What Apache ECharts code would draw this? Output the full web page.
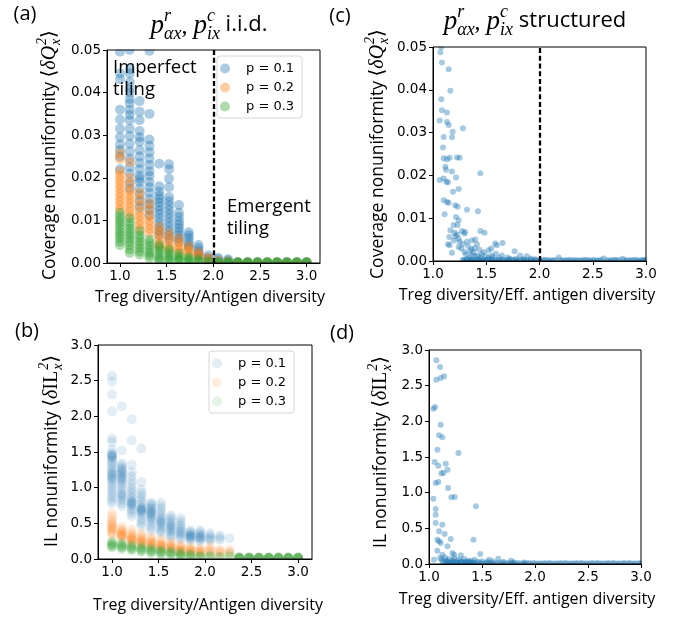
<!DOCTYPE html>
<html><head><meta charset="utf-8">
<script src="https://cdn.jsdelivr.net/npm/echarts@6/dist/echarts.min.js"></script>
<style>html,body{margin:0;padding:0;background:#fff}#c{width:683px;height:618px}</style>
</head><body><div id="c"></div>
<script>
// ---------- DATA ----------
const xCols = [1.000, 1.105, 1.211, 1.316, 1.421, 1.526, 1.632, 1.737, 1.842, 1.947, 2.053, 2.158, 2.263, 2.368, 2.474, 2.579, 2.684, 2.789, 2.895, 3.000];
const legendNames = ['p = 0.1', 'p = 0.2', 'p = 0.3'];
const xTicks = [1.0, 1.5, 2.0, 2.5, 3.0];
const covTicks = [0, 0.01, 0.02, 0.03, 0.04, 0.05];
const ilTicks = [0, 0.5, 1.0, 1.5, 2.0, 2.5, 3.0];
const tilingThreshold = 2.0;

// (a) coverage nonuniformity, i.i.d., one list per x column
const covP1 = [
  [0.0496, 0.0445, 0.0432, 0.0360, 0.0337, 0.0315, 0.0295, 0.0278, 0.0265, 0.0250, 0.0220],
  [0.0500, 0.0455, 0.0445, 0.0425, 0.0410, 0.0400, 0.0385, 0.0375, 0.0360, 0.0348, 0.0335, 0.0315, 0.0298, 0.0280, 0.0262, 0.0245, 0.0225, 0.0210, 0.0190, 0.0175],
  [0.0380, 0.0355, 0.0335, 0.0310, 0.0295, 0.0285, 0.0265, 0.0250, 0.0235, 0.0220, 0.0205, 0.0198, 0.0190, 0.0175, 0.0160, 0.0145, 0.0130],
  [0.0498, 0.0350, 0.0290, 0.0275, 0.0260, 0.0245, 0.0230, 0.0215, 0.0205, 0.0190, 0.0178, 0.0165, 0.0150, 0.0138, 0.0125, 0.0112],
  [0.0233, 0.0180, 0.0168, 0.0158, 0.0150, 0.0142, 0.0133, 0.0124, 0.0115, 0.0105, 0.0095, 0.0085, 0.0075, 0.0065],
  [0.0232, 0.0220, 0.0198, 0.0178, 0.0155, 0.0145, 0.0135, 0.0125, 0.0115, 0.0105, 0.0095, 0.0085, 0.0075, 0.0065, 0.0055],
  [0.0136, 0.0118, 0.0108, 0.0098, 0.0090, 0.0082, 0.0074, 0.0066, 0.0058, 0.0050],
  [0.0072, 0.0065, 0.0058, 0.0050, 0.0042, 0.0036],
  [0.0042, 0.0035, 0.0028, 0.0022, 0.0017],
  [0.0018, 0.0012, 0.0008],
  [0.0012, 0.0008],
  [0.0009, 0.0006],
  [0.0002], [0.0002], [0.0002], [0.0002], [0.0002], [0.0002], [0.0002], [0.0002]
];
const covP2 = [
  [0.0258, 0.0245, 0.0215, 0.0205, 0.0195, 0.0185, 0.0175, 0.0165, 0.0155, 0.0145, 0.0135, 0.0125],
  [0.0237, 0.0200, 0.0185, 0.0170, 0.0160, 0.0150, 0.0140, 0.0130, 0.0120, 0.0110],
  [0.0165, 0.0150, 0.0135, 0.0120, 0.0110, 0.0100, 0.0090, 0.0080],
  [0.0140, 0.0125, 0.0110, 0.0100, 0.0090, 0.0080, 0.0070],
  [0.0085, 0.0075, 0.0065, 0.0055, 0.0045, 0.0038],
  [0.0070, 0.0060, 0.0050, 0.0040, 0.0032],
  [0.0058, 0.0048, 0.0040, 0.0032, 0.0025],
  [0.0040, 0.0033, 0.0026, 0.0020],
  [0.0025, 0.0020, 0.0015],
  [0.0012, 0.0008],
  [0.0006], [0.0004],
  [0.0001], [0.0001], [0.0001], [0.0001], [0.0001], [0.0001], [0.0001], [0.0001]
];
const covP3 = [
  [0.0118, 0.0110, 0.0102, 0.0095, 0.0088, 0.0080, 0.0072, 0.0065, 0.0058, 0.0050, 0.0042],
  [0.0105, 0.0095, 0.0088, 0.0080, 0.0072, 0.0065, 0.0057, 0.0050, 0.0042, 0.0032, 0.0024],
  [0.0075, 0.0065, 0.0058, 0.0050, 0.0042, 0.0035, 0.0027, 0.0020],
  [0.0055, 0.0048, 0.0040, 0.0032, 0.0025, 0.0018, 0.0012],
  [0.0042, 0.0035, 0.0028, 0.0021, 0.0015, 0.0009, 0.0005],
  [0.0032, 0.0025, 0.0019, 0.0013, 0.0008, 0.0004],
  [0.0022, 0.0016, 0.0011, 0.0007, 0.0004],
  [0.0014, 0.0010, 0.0006, 0.0003],
  [0.0009, 0.0005, 0.0002],
  [0.0004, 0.0002],
  [0.0002, 0.0001, 0.0001], [0.0002, 0.0001, 0.0001], [0.0002, 0.0001, 0.0001], [0.0002, 0.0001, 0.0001], [0.0002, 0.0001, 0.0001],
  [0.0002, 0.0001, 0.0001], [0.0002, 0.0001, 0.0001], [0.0002, 0.0001, 0.0001], [0.0002, 0.0001, 0.0001], [0.0002, 0.0001, 0.0001]
];

// (b) IL nonuniformity, i.i.d.
const ilP1 = [
  [2.57, 2.49, 2.31, 2.07, 1.69, 1.64, 1.53, 1.48, 1.46, 1.45, 1.44, 1.43, 1.41, 1.38, 1.35, 1.32, 1.28, 1.25, 1.22, 1.20, 1.18, 1.16, 1.14, 1.12, 1.10, 1.06, 1.02, 0.98, 0.94, 0.90, 0.86, 0.82, 0.78],
  [2.14, 1.52, 1.34, 1.31, 1.28, 1.26, 1.24, 1.22, 1.20, 1.18, 1.16, 1.14, 1.12, 1.10, 1.07, 1.04, 1.00, 0.96, 0.92, 0.90, 0.88, 0.85, 0.82, 0.78, 0.74],
  [1.96, 1.66, 1.32, 1.22, 1.16, 1.10, 1.05, 1.00, 0.96, 0.92, 0.88, 0.85, 0.82, 0.80, 0.79, 0.78, 0.76, 0.74, 0.71, 0.68, 0.64, 0.60],
  [1.55, 1.08, 0.97, 0.92, 0.88, 0.84, 0.80, 0.76, 0.73, 0.71, 0.70, 0.69, 0.68, 0.67, 0.65, 0.62, 0.58, 0.54, 0.50, 0.46],
  [0.79, 0.77, 0.75, 0.72, 0.70, 0.68, 0.66, 0.65, 0.64, 0.62, 0.60, 0.58, 0.55, 0.52, 0.48, 0.44, 0.40],
  [0.79, 0.74, 0.70, 0.66, 0.62, 0.58, 0.56, 0.54, 0.52, 0.50, 0.48, 0.45, 0.42, 0.39, 0.36],
  [0.61, 0.58, 0.55, 0.52, 0.49, 0.47, 0.45, 0.43, 0.41, 0.39, 0.36, 0.33, 0.30],
  [0.57, 0.53, 0.49, 0.46, 0.43, 0.40, 0.38, 0.36, 0.34, 0.31, 0.28],
  [0.40, 0.38, 0.36, 0.34, 0.33, 0.32, 0.31, 0.30, 0.28, 0.26],
  [0.40, 0.37, 0.35, 0.33, 0.31, 0.30, 0.29, 0.27, 0.25],
  [0.36, 0.33, 0.30, 0.28, 0.26],
  [0.33, 0.30, 0.27],
  [0.29],
  [0.01], [0.01], [0.01], [0.01], [0.01], [0.01], [0.01]
];
const ilP2 = [
  [0.64, 0.60, 0.56, 0.52, 0.50, 0.48, 0.46, 0.44, 0.42, 0.40, 0.38, 0.36, 0.34],
  [0.45, 0.42, 0.40, 0.38, 0.36, 0.35, 0.34, 0.33, 0.32, 0.31, 0.29],
  [0.41, 0.37, 0.34, 0.32, 0.30, 0.29, 0.28, 0.27, 0.26, 0.24, 0.22],
  [0.36, 0.33, 0.30, 0.28, 0.26, 0.25, 0.24, 0.23, 0.22, 0.20],
  [0.31, 0.28, 0.26, 0.24, 0.22, 0.21, 0.20, 0.19, 0.17],
  [0.28, 0.25, 0.22, 0.20, 0.19, 0.18, 0.17, 0.16, 0.14],
  [0.24, 0.21, 0.19, 0.17, 0.16, 0.15, 0.14, 0.12],
  [0.20, 0.18, 0.16, 0.14, 0.13, 0.12, 0.11, 0.09],
  [0.17, 0.15, 0.13, 0.12, 0.11, 0.10, 0.08],
  [0.15, 0.13, 0.11, 0.10, 0.09, 0.08],
  [0.18, 0.14, 0.12, 0.10, 0.08],
  [0.13, 0.11, 0.09, 0.07],
  [0.13, 0.10, 0.08],
  [0.01], [0.01], [0.01], [0.01], [0.01], [0.01], [0.01]
];
const ilP3 = [
  [0.25, 0.23, 0.22, 0.21, 0.20, 0.19, 0.18, 0.17, 0.16],
  [0.23, 0.21, 0.20, 0.19, 0.18, 0.17, 0.16, 0.15, 0.14],
  [0.20, 0.18, 0.17, 0.16, 0.15, 0.14, 0.13, 0.12],
  [0.18, 0.16, 0.15, 0.14, 0.13, 0.12, 0.11, 0.10],
  [0.16, 0.14, 0.13, 0.12, 0.11, 0.10, 0.09, 0.08],
  [0.13, 0.12, 0.11, 0.10, 0.09, 0.08, 0.07, 0.06],
  [0.11, 0.10, 0.09, 0.08, 0.07, 0.06, 0.05],
  [0.09, 0.08, 0.07, 0.06, 0.05, 0.04, 0.03],
  [0.07, 0.06, 0.05, 0.04, 0.03, 0.02],
  [0.05, 0.04, 0.03, 0.02, 0.02],
  [0.05, 0.04, 0.03, 0.02],
  [0.03, 0.02, 0.02],
  [0.07, 0.04, 0.02],
  [0.02, 0.02, 0.02, 0.015, 0.015, 0.01, 0.01, 0.01],
  [0.02, 0.02, 0.02, 0.015, 0.015, 0.01, 0.01, 0.01],
  [0.02, 0.02, 0.02, 0.015, 0.015, 0.01, 0.01, 0.01],
  [0.02, 0.02, 0.02, 0.015, 0.015, 0.01, 0.01, 0.01],
  [0.02, 0.02, 0.02, 0.015, 0.015, 0.01, 0.01, 0.01],
  [0.02, 0.02, 0.02, 0.015, 0.015, 0.01, 0.01, 0.01],
  [0.02, 0.02, 0.02, 0.015, 0.015, 0.01, 0.01, 0.01]
];

// (c) structured: effective diversity ratio and coverage nonuniformity
const structXc = [1.078,1.069,1.084,1.147,1.163,1.078,1.084,1.131,1.063,1.131,1.147,1.281,1.184,1.100,1.178,1.094,1.100,1.131,1.156,1.225,1.250,1.116,1.122,1.178,1.063,1.100,1.125,1.141,1.216,1.444,1.188,1.241,1.100,1.131,1.147,1.209,1.231,1.319,1.422,1.109,1.216,1.241,1.194,1.231,1.163,1.203,1.272,1.300,1.153,1.228,1.241,1.294,1.444,1.484,1.141,1.156,1.194,1.241,1.266,1.319,1.366,1.397,1.178,1.297,1.350,1.413,1.434,1.475,1.522,1.547,1.584,1.600,1.653,1.366,1.397,1.459,1.553,1.591,1.647,1.766,1.819,1.881,
  1.210,1.250,1.280,1.330,1.360,1.390,1.310,1.340,1.380,1.420,1.450,1.500,1.520,1.560,1.620,1.700,1.720,1.780,1.850,1.920,1.960,
  1.28,1.30,1.32,1.35,1.37,1.40,1.42,1.44,1.46,1.48,1.50,1.53,1.55,1.58,1.60,1.63,1.66,1.68,1.71,1.74,1.77,1.80,1.83,1.86,1.89,1.93,1.97,2.01,2.05,2.09,2.13,2.18,2.20,2.24,2.28,2.32,2.36,2.40,2.44,2.48,2.52,2.56,2.60,2.63,2.67,2.71,2.75,2.78,2.82,2.86,2.90,2.94,2.97,3.00,
  1.29,1.33,1.36,1.39,1.43,1.47,1.51,1.56,1.61,1.65,1.70,1.75,1.79,1.84,1.88,1.92,1.96,2.00,2.03,2.07,2.11,2.15,2.22,2.26,2.30,2.34,2.38,2.42,2.46,2.50,2.54,2.58,2.65,2.69,2.73,2.80,2.84,2.88,2.92,2.96,2.99];
const structCov = [0.0500,0.0488,0.0464,0.0448,0.0398,0.0378,0.0352,0.0347,0.0328,0.0325,0.0318,0.0310,0.0302,0.0290,0.0289,0.0265,0.0240,0.0238,0.0241,0.0242,0.0241,0.0220,0.0213,0.0209,0.0189,0.0193,0.0185,0.0184,0.0195,0.0205,0.0162,0.0168,0.0142,0.0138,0.0136,0.0130,0.0127,0.0120,0.0116,0.0109,0.0103,0.0095,0.0084,0.0084,0.0072,0.0066,0.0070,0.0068,0.0056,0.0062,0.0052,0.0064,0.0070,0.0066,0.0039,0.0037,0.0048,0.0033,0.0029,0.0045,0.0048,0.0050,0.0019,0.0021,0.0023,0.0039,0.0027,0.0021,0.0025,0.0029,0.0041,0.0037,0.0042,0.0013,0.0011,0.0016,0.0013,0.0017,0.0013,0.0023,0.0013,0.0011,
  0.0058,0.0045,0.0040,0.0035,0.0028,0.0030,0.0015,0.0008,0.0020,0.0012,0.0009,0.0011,0.0007,0.0009,0.0007,0.0008,0.0005,0.0006,0.0004,0.0006,0.0004,
  0.0003,0.0002,0.0004,0.0002,0.0003,0.0001,0.0004,0.0002,0.0003,0.0001,0.0003,0.0002,0.0004,0.0001,0.0003,0.0002,0.0003,0.0001,0.0002,0.0003,0.0002,0.0001,0.0003,0.0002,0.0001,0.0002,0.0001,0.0002,0.0003,0.0001,0.0002,0.0008,0.0002,0.0001,0.0003,0.0002,0.0001,0.0002,0.0003,0.0001,0.0002,0.0001,0.0006,0.0002,0.0001,0.0003,0.0002,0.0005,0.0001,0.0002,0.0003,0.0001,0.0002,0.0003,
  0.0001,0.0002,0.0001,0.0002,0.0001,0.0002,0.0001,0.0002,0.0001,0.0002,0.0001,0.0002,0.0001,0.0002,0.0001,0.0002,0.0001,0.0002,0.0001,0.0002,0.0001,0.0002,0.0001,0.0002,0.0001,0.0002,0.0001,0.0002,0.0001,0.0002,0.0001,0.0002,0.0001,0.0002,0.0001,0.0002,0.0001,0.0002,0.0001,0.0002,0.0001];

// (d) structured: effective diversity ratio and IL nonuniformity
const structXd = [1.069,1.104,1.069,1.110,1.142,1.041,1.057,1.110,1.095,1.126,1.079,1.278,1.054,1.088,1.158,1.174,1.136,1.117,1.063,1.088,1.180,1.211,1.243,1.041,1.442,1.063,1.063,1.063,1.126,1.095,1.148,1.079,1.095,1.110,1.205,1.420,1.174,1.079,1.483,1.221,1.237,1.126,1.300,1.047,1.104,1.653,1.568,1.773,
  1.12,1.15,1.17,1.19,1.22,1.24,1.26,1.28,1.30,1.33,1.35,1.37,1.40,1.43,1.46,1.50,1.55,1.60,1.70,1.80,1.90,1.13,1.16,1.20,1.23,1.27,1.31,1.34,1.38,1.41,
  1.15,1.20,1.25,1.30,1.35,1.40,1.45,1.50,1.55,1.60,1.65,1.70,1.75,1.80,1.85,1.90,1.95,2.00,2.05,2.10,2.15,2.20,2.25,2.30,2.35,2.40,2.45,2.50,2.55,2.60,2.65,2.70,2.75,2.80,2.85,2.90,2.95,3.00,
  1.18,1.23,1.28,1.33,1.38,1.43,1.48,1.53,1.58,1.63,1.68,1.73,1.78,1.83,1.88,1.93,1.98,2.03,2.08,2.13,2.18,2.23,2.28,2.33,2.38,2.43,2.48,2.53,2.58,2.63,2.68,2.73,2.78,2.83,2.88,2.93,2.98];
const structIL = [2.855,2.762,2.584,2.607,2.631,2.178,2.200,1.953,1.804,1.776,1.603,1.556,1.430,1.379,1.407,1.322,1.276,1.271,1.136,1.150,1.065,0.935,0.939,0.916,0.808,0.771,0.692,0.575,0.551,0.458,0.421,0.341,0.318,0.294,0.350,0.341,0.248,0.187,0.140,0.154,0.131,0.131,0.121,0.061,0.084,0.075,0.061,0.047,
  0.06,0.09,0.04,0.07,0.05,0.08,0.03,0.06,0.04,0.07,0.03,0.05,0.04,0.06,0.03,0.04,0.03,0.04,0.03,0.025,0.02,0.03,0.05,0.02,0.04,0.02,0.03,0.02,0.03,0.02,
  0.015,0.01,0.015,0.01,0.012,0.01,0.012,0.01,0.01,0.012,0.01,0.01,0.012,0.01,0.01,0.008,0.01,0.01,0.008,0.01,0.01,0.008,0.01,0.01,0.008,0.01,0.01,0.008,0.01,0.01,0.008,0.01,0.01,0.008,0.01,0.01,0.008,0.01,
  0.02,0.015,0.01,0.012,0.01,0.015,0.01,0.012,0.01,0.01,0.012,0.01,0.01,0.01,0.008,0.01,0.01,0.008,0.01,0.01,0.008,0.01,0.01,0.008,0.01,0.01,0.008,0.01,0.01,0.008,0.01,0.01,0.008,0.01,0.01,0.008,0.01];

// ---------- BUILD ----------
const BLUE = '#1f77b4', ORANGE = '#ff7f0e', GREEN = '#2ca02c';
const SANS = '"Open Sans", "Noto Sans", sans-serif';
const TICKF = '"DejaVu Sans", sans-serif';
const SERIF = '"Liberation Serif", "DejaVu Serif", serif';

function colsToData(cols) { const d = []; cols.forEach((ys, i) => ys.forEach(y => d.push([xCols[i], y]))); return d; }
function zipData(xs, ys) { return xs.map((x, i) => [x, ys[i]]); }

const grids = [
  { left: 107, top: 50, width: 213, height: 213, z: 5 },   // a
  { left: 98, top: 345, width: 214, height: 214, z: 5 },   // b
  { left: 433, top: 47, width: 213, height: 214, z: 5 },   // c
  { left: 429, top: 350, width: 212, height: 214, z: 5 }   // d
];
grids.forEach(g => { g.show = true; g.borderColor = '#000'; g.borderWidth = 1; g.backgroundColor = 'transparent'; });

function xAx(i, min, max) {
  return { type: 'value', gridIndex: i, min: min, max: max, z: 6,
    axisLine: { show: true, onZero: false, lineStyle: { color: '#000', width: 1 } },
    axisTick: { show: true, length: 4, inside: false, customValues: xTicks, lineStyle: { color: '#000' } },
    axisLabel: { show: true, customValues: xTicks, formatter: v => v.toFixed(1), fontFamily: TICKF, fontSize: 13.5, color: '#000', margin: 6 },
    splitLine: { show: false } };
}
function yAx(i, min, max, ticks, dec) {
  return { type: 'value', gridIndex: i, min: min, max: max, z: 6,
    axisLine: { show: true, onZero: false, lineStyle: { color: '#000', width: 1 } },
    axisTick: { show: true, length: 4, inside: false, customValues: ticks, lineStyle: { color: '#000' } },
    axisLabel: { show: true, customValues: ticks, formatter: v => v.toFixed(dec), fontFamily: TICKF, fontSize: 13.5, color: '#000', margin: 6 },
    splitLine: { show: false } };
}

function sc(name, idx, data, color, op, size, extra) {
  return Object.assign({ name: name, type: 'scatter', xAxisIndex: idx, yAxisIndex: idx, data: data, symbol: 'circle', symbolSize: size,
    itemStyle: { color: color, opacity: op }, emphasis: { disabled: true }, silent: true, z: 2 }, extra || {});
}
function vline() {
  return { markLine: { silent: true, symbol: ['none', 'none'], label: { show: false }, animation: false,
    lineStyle: { color: '#000', width: 2.3, type: [5, 2.7], opacity: 1 }, emphasis: { disabled: true }, data: [{ xAxis: tilingThreshold }] } };
}

const series = [
  sc('a1', 0, colsToData(covP1), BLUE, 0.38, 10, vline()),
  sc('a2', 0, colsToData(covP2), ORANGE, 0.38, 10),
  sc('a3', 0, colsToData(covP3), GREEN, 0.38, 10),
  sc('b1', 1, colsToData(ilP1), BLUE, 0.13, 10),
  sc('b2', 1, colsToData(ilP2), ORANGE, 0.13, 10),
  sc('b3', 1, colsToData(ilP3), GREEN, 0.13, 10),
  sc('c1', 2, zipData(structXc, structCov), BLUE, 0.4, 6, vline()),
  sc('d1', 3, zipData(structXd, structIL), BLUE, 0.4, 6)
];

const nameMap = { a1: legendNames[0], a2: legendNames[1], a3: legendNames[2], b1: legendNames[0], b2: legendNames[1], b3: legendNames[2] };
function leg(names, left, top) {
  return { data: names, left: left, top: top, orient: 'vertical', icon: 'circle', itemWidth: 32, itemHeight: 10, itemGap: 6,
    padding: [6, 8, 5, 3], backgroundColor: '#fff', borderColor: '#d6d6d6', borderWidth: 1, borderRadius: 3,
    formatter: n => nameMap[n], textStyle: { fontFamily: TICKF, fontSize: 13, color: '#000' }, selectedMode: false, z: 8 };
}

// ---- text helpers ----
const mctx = document.createElement('canvas').getContext('2d');
function tw(font, t) { mctx.font = font; return mctx.measureText(t).width; }
function txt(t, x, y, font, align, valign) {
  return { type: 'text', x: x, y: y, z: 20, silent: true,
    style: { text: t, font: font, fill: '#000', textAlign: align || 'left', textVerticalAlign: valign || 'middle', align: align || 'left', verticalAlign: valign || 'middle' } };
}
function mathGroup(pieces, cx, cy, rot) {
  let W = 0;
  const ws = pieces.map(p => { const w = (p.t != null ? tw(p.font, p.t) : Math.max(tw(p.font, p.sup || ''), tw(p.font, p.sub || ''))) + (p.gap || 0); W += w; return w; });
  let x = -W / 2; const ch = [];
  pieces.forEach((p, i) => {
    if (p.t != null) ch.push(txt(p.t, x, p.dy || 0, p.font));
    else {
      if (p.sup) ch.push(txt(p.sup, x, p.supDy, p.font));
      if (p.sub) ch.push(txt(p.sub, x, p.subDy, p.font));
    }
    x += ws[i];
  });
  return { type: 'group', x: cx, y: cy, rotation: rot || 0, z: 20, children: ch };
}
const fLab = '17.5px ' + SANS, fXLab = '16px ' + SANS;
const fM = 'italic 20px ' + SERIF, fMr = '20px ' + SERIF, fMs = 'italic 14px ' + SERIF;
function covLabel(cx, cy) {
  return mathGroup([
    { t: 'Coverage nonuniformity ', font: fLab },
    { t: '\u27E8', font: fMr }, { t: '\u03B4Q', font: fM, gap: 1 },
    { sup: '2', sub: 'x', font: fMs, supDy: -8, subDy: 6 },
    { t: '\u27E9', font: fMr }
  ], cx, cy, Math.PI / 2);
}
function ilLabel(cx, cy) {
  return mathGroup([
    { t: 'IL nonuniformity ', font: fLab },
    { t: '\u27E8', font: fMr }, { t: '\u03B4', font: fM }, { t: 'IL', font: fMr, gap: 1 },
    { sup: '2', sub: 'x', font: fMs, supDy: -8, subDy: 6 },
    { t: '\u27E9', font: fMr }
  ], cx, cy, Math.PI / 2);
}
const fP = 'italic 27px ' + SERIF, fPs = 'italic 18px ' + SERIF, fT = '22px ' + SANS;
function titleGroup(tail, cx, cy) {
  return mathGroup([
    { t: 'p', font: fP, dy: 1 },
    { sup: 'r', sub: '\u03B1x', font: fPs, supDy: -9, subDy: 9 },
    { t: ',', font: '24px ' + SERIF, dy: 2, gap: 6 },
    { t: 'p', font: fP, dy: 1 },
    { sup: 'c', sub: 'ix', font: fPs, supDy: -9, subDy: 9 },
    { t: tail, font: fT, dy: 0 }
  ], cx, cy, 0);
}

// white bands to clip markers outside the axes
const bands = [];
grids.forEach(g => {
  const L = g.left, T = g.top, R = g.left + g.width, B = g.top + g.height, m = 12;
  const st = { fill: '#fff' };
  bands.push({ type: 'rect', z: 3, silent: true, shape: { x: L - m, y: T - m, width: g.width + 2 * m, height: m - 0.5 }, style: st });
  bands.push({ type: 'rect', z: 3, silent: true, shape: { x: L - m, y: B + 0.5, width: g.width + 2 * m, height: m }, style: st });
  bands.push({ type: 'rect', z: 3, silent: true, shape: { x: L - m, y: T - m, width: m - 0.5, height: g.height + 2 * m }, style: st });
  bands.push({ type: 'rect', z: 3, silent: true, shape: { x: R + 0.5, y: T - m, width: m, height: g.height + 2 * m }, style: st });
});

const fPanel = '20px ' + SANS, fNote = '18.5px ' + SANS;
const graphics = bands.concat([
  txt('(a)', 25, 14, fPanel, 'center'),
  txt('(b)', 27, 331, fPanel, 'center'),
  txt('(c)', 340, 16, fPanel, 'center'),
  txt('(d)', 342, 333, fPanel, 'center'),
  titleGroup(' i.i.d.', 209, 25),
  titleGroup(' structured', 535, 21),
  covLabel(50, 155),
  covLabel(378, 154),
  ilLabel(52, 451),
  ilLabel(381, 452),
  txt('Treg diversity/Antigen diversity', 210, 297, fXLab, 'center'),
  txt('Treg diversity/Eff. antigen diversity', 527, 295, fXLab, 'center'),
  txt('Treg diversity/Antigen diversity', 208, 605, fXLab, 'center'),
  txt('Treg diversity/Eff. antigen diversity', 527, 599, fXLab, 'center'),
  txt('Imperfect', 113, 68, fNote), txt('tiling', 113, 90, fNote),
  txt('Emergent', 227, 207, fNote), txt('tiling', 227, 229, fNote)
]);

const option = {
  animation: false,
  backgroundColor: '#fff',
  grid: grids,
  xAxis: [xAx(0, 0.861, 3.144), xAx(1, 0.849, 3.150), xAx(2, 1.0, 3.0), xAx(3, 1.0, 3.0)],
  yAxis: [yAx(0, 0, 0.05, covTicks, 2), yAx(1, 0, 3, ilTicks, 1), yAx(2, 0, 0.05, covTicks, 2), yAx(3, 0, 3, ilTicks, 1)],
  legend: [leg(['a1', 'a2', 'a3'], 217, 56), leg(['b1', 'b2', 'b3'], 209, 351)],
  series: series,
  graphic: { elements: graphics }
};
const chart = echarts.init(document.getElementById('c'), null, { renderer: 'canvas' });
chart.setOption(option);
</script></body></html>
